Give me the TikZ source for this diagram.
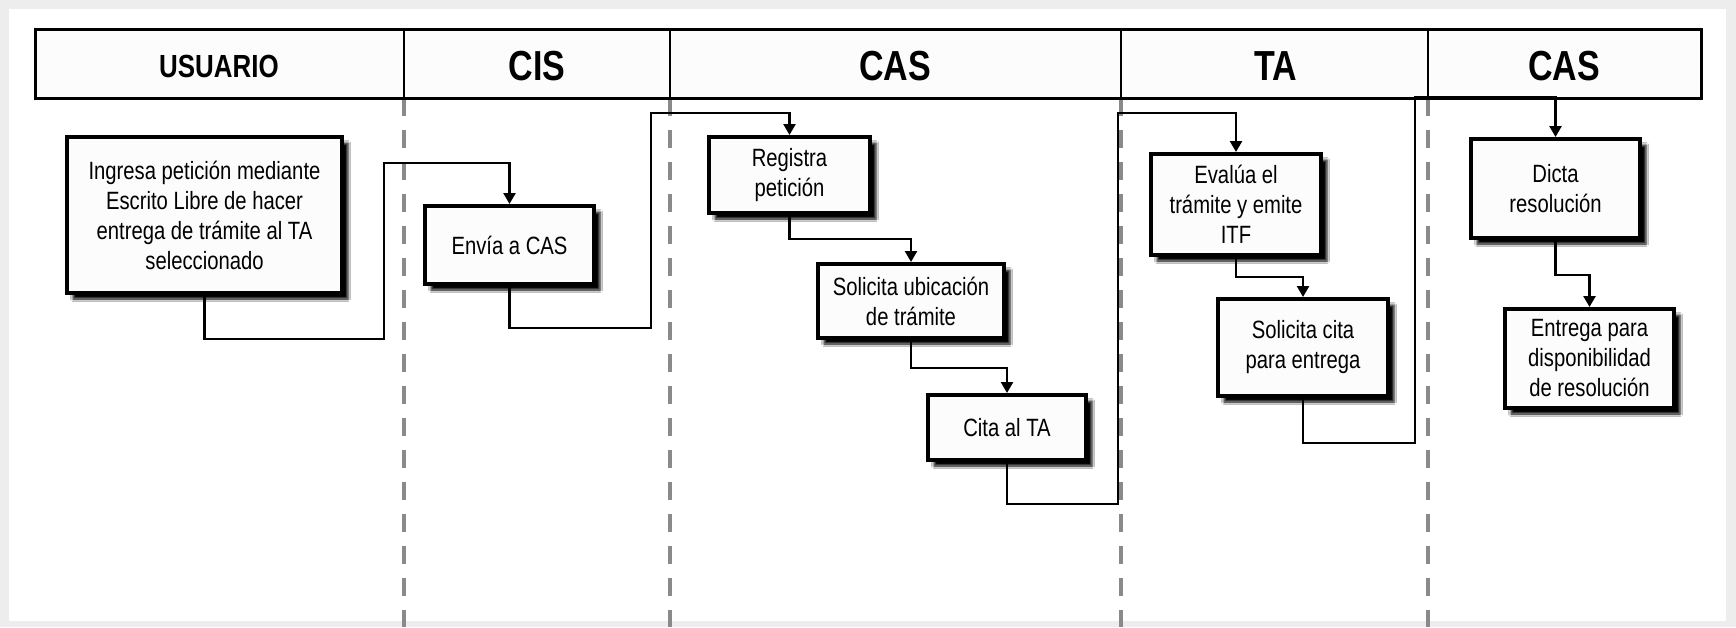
\documentclass[tikz,border=0pt]{standalone}
\usepackage{fontspec}
\setmainfont{Liberation Sans}[FakeStretch=0.81]
\usetikzlibrary{arrows.meta,shadows.blur}
\definecolor{framegray}{HTML}{EDEDED}
\definecolor{lanegray}{HTML}{8A8A8A}
\definecolor{boxfill}{HTML}{FCFCFC}
\tikzset{
  stepbox/.style={draw=black, line width=4pt, fill=boxfill, align=center,
    inner sep=4pt, font=\fontsize{25}{30}\selectfont,
    blur shadow={shadow xshift=6pt, shadow yshift=-6pt, shadow blur radius=2.5pt, shadow opacity=100}},
  lanehead/.style={anchor=base, font=\bfseries\fontsize{42}{42}\selectfont},
  laneline/.style={draw=lanegray, line width=4.5pt, dash pattern=on 18pt off 14pt},
  conn/.style={draw=black, line width=2.5pt, -{Triangle[length=11pt,width=12pt]}}
}
\begin{document}
\begin{tikzpicture}[x=1pt, y=-1pt]
  % frame
  \fill[framegray] (0,0) rectangle (1736,627);
  \fill[white] (9,9) rectangle (1726,621);
  \useasboundingbox (0,0) rectangle (1736,627);

  % lane separators
  \foreach \lx in {404,670,1121,1428}
    \draw[laneline] (\lx,98) -- (\lx,627);

  % header band
  \draw[line width=3pt, fill=boxfill] (35,29) rectangle (1701,98);
  \foreach \lx in {404,670,1121,1428}
    \draw[line width=2.5pt] (\lx,29) -- (\lx,98);
  \node[lanehead, font=\bfseries\fontsize{32}{32}\selectfont] (hUsuario) at (219,77) {USUARIO};
  \node[lanehead] (hCis) at (537,80) {CIS};
  \node[lanehead] (hCasA) at (895,80) {CAS};
  \node[lanehead] (hTa) at (1276,80) {TA};
  \node[lanehead] (hCasB) at (1564,80) {CAS};

  % process steps
  \node[stepbox, minimum width=275pt, minimum height=156pt] (b1) at (204.5,215)
    {Ingresa petición mediante\\Escrito Libre de hacer\\entrega de trámite al TA\\seleccionado};
  \node[stepbox, minimum width=169pt, minimum height=78pt] (b2) at (509.5,245) {Envía a CAS};
  \node[stepbox, minimum width=161pt, minimum height=76pt] (b3) at (789.5,175) {Registra\\petición};
  \node[stepbox, minimum width=186pt, minimum height=74pt] (b4) at (911,301) {Solicita ubicación\\de trámite};
  \node[stepbox, minimum width=158pt, minimum height=65pt] (b5) at (1007,427.5) {Cita al TA};
  \node[stepbox, minimum width=170pt, minimum height=101pt] (b6) at (1236,204.5) {Evalúa el\\trámite y emite\\ITF};
  \node[stepbox, minimum width=170pt, minimum height=97pt] (b7) at (1303,347.5) {Solicita cita\\para entrega};
  \node[stepbox, minimum width=169pt, minimum height=99pt] (b8) at (1555.5,188.5) {Dicta\\resolución};
  \node[stepbox, minimum width=169pt, minimum height=99pt] (b9) at (1589.5,358.5) {Entrega para\\disponibilidad\\de resolución};

  % connectors
  \draw[conn] (b1.south) |- (384,339) -- (384,163) -| (b2.north);
  \draw[conn] (b2.south) |- (651,328) -- (651,113) -| (b3.north);
  \draw[conn] (b3.south) -- ++(0,24) -| (b4.north);
  \draw[conn] (b4.south) -- ++(0,28) -| (b5.north);
  \draw[conn] (b5.south) |- (1118,504) -- (1118,113) -| (b6.north);
  \draw[conn] (b6.south) -- ++(0,20) -| (b7.north);
  \draw[conn] (b7.south) |- (1415,443) -- (1415,97) -| (b8.north);
  \draw[conn] (b8.south) -- ++(0,35) -| (b9.north);
\end{tikzpicture}
\end{document}
